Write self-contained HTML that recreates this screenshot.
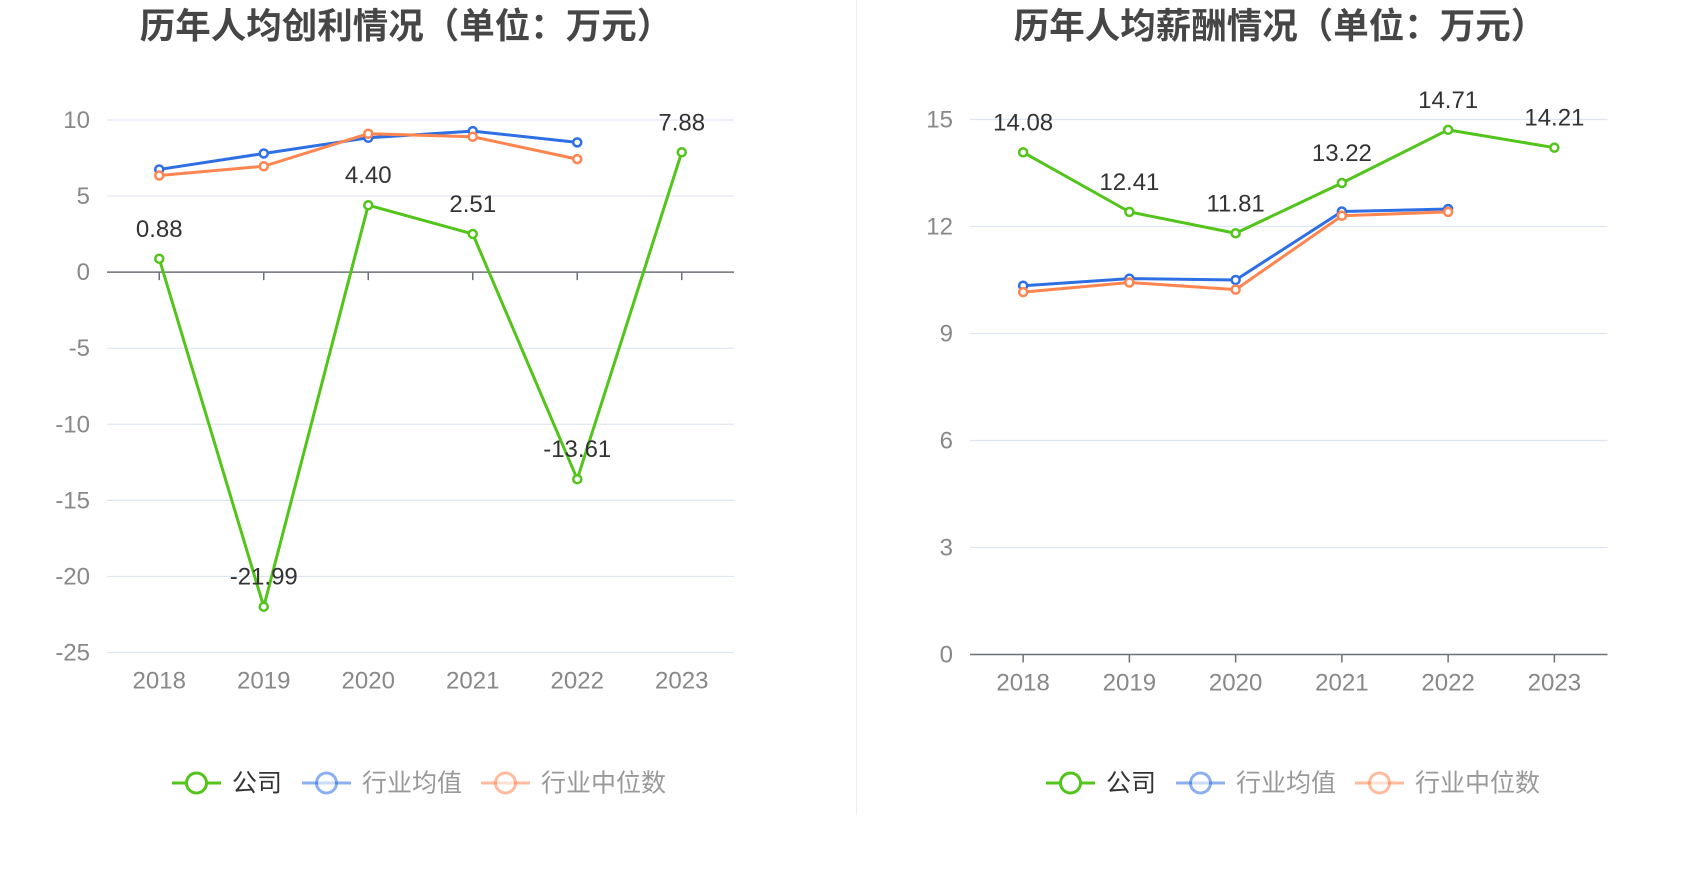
<!DOCTYPE html>
<html><head><meta charset="utf-8"><style>
body{margin:0;background:#fff;width:1700px;height:874px;overflow:hidden}
svg{display:block}
text{font-family:"Liberation Sans","Noto Sans CJK SC",sans-serif}
</style></head><body>
<svg id="c" width="1700" height="874">
<line x1="856.5" y1="0" x2="856.5" y2="815" stroke="#eeeeee" stroke-width="1"/>
</svg>
<script>
const years = ["2018","2019","2020","2021","2022","2023"];
const profitCompany = [0.88,-21.99,4.40,2.51,-13.61,7.88];
const profitAvg = [6.75,7.8,8.83,9.27,8.53];
const profitMedian = [6.35,6.96,9.1,8.9,7.43];
const profitTicks = [10,5,0,-5,-10,-15,-20,-25];
const salaryCompany = [14.08,12.41,11.81,13.22,14.71,14.21];
const salaryAvg = [10.34,10.54,10.5,12.42,12.49];
const salaryMedian = [10.16,10.43,10.23,12.3,12.41];
const salaryTicks = [15,12,9,6,3,0];

const NS="http://www.w3.org/2000/svg";
const svg=document.getElementById('c');
function mk(tag,attrs,parent){const e=document.createElementNS(NS,tag);for(const k in attrs)e.setAttribute(k,attrs[k]);(parent||svg).appendChild(e);return e;}
const GREEN="#52c41a",BLUE="#2f6fe4",ORANGE="#ff8550";

function chart(o){
  const g=mk('g',{});
  
  
  const yMin=Math.min(...o.ticks),yMax=Math.max(...o.ticks);
  const Y=v=>o.top+(yMax-v)/(yMax-yMin)*(o.bottom-o.top);
  const band=(o.right-o.left)/years.length;
  const X=i=>o.left+band*(i+0.5);
  const t=mk('text',{x:o.titleX,y:38,'text-anchor':'middle','font-size':35.5,'font-weight':'bold',fill:'#464646'},g);
  t.textContent=o.title;
  
  
  o.ticks.forEach(v=>{
    const y=Y(v);
    if(v!==0){const l=mk('line',{x1:o.left,x2:o.right,y1:y,y2:y,stroke:'#e0e6f1','stroke-width':1.2},g);
      
      }
    const tx=mk('text',{x:o.labelX,y:y+8,'text-anchor':'end','font-size':24,fill:'#888'},g);
    tx.textContent=v;
    
    
  });
  const y0=Y(0);
  const ax=mk('line',{x1:o.left,x2:o.right,y1:y0,y2:y0,stroke:'#6e7079','stroke-width':1.5},g);
  
  
  years.forEach((yr,i)=>{
    const tk=mk('line',{x1:X(i),x2:X(i),y1:y0,y2:y0+8,stroke:'#6e7079','stroke-width':1.5},g);
    
    
    const tx=mk('text',{x:X(i),y:o.bottom+36,'text-anchor':'middle','font-size':24,fill:'#888'},g);
    tx.textContent=yr;
    
    
  });
  function series(vals,color,name,labels){
    const p=mk('polyline',{points:vals.map((v,i)=>X(i)+','+Y(v)).join(' '),fill:'none',stroke:color,'stroke-width':3,'stroke-linejoin':'round'},g);
    
    
    vals.forEach((v,i)=>{
      const c=mk('circle',{cx:X(i),cy:Y(v),r:4,fill:'#fff',stroke:color,'stroke-width':2.5},g);
      
      
      if(labels){const tx=mk('text',{x:X(i),y:Y(v)-22,'text-anchor':'middle','font-size':24,fill:'#333'},g);
        tx.textContent=v.toFixed(2);
        
        }
    });
  }
  series(o.avg,BLUE,'industry-average',false);
  series(o.median,ORANGE,'industry-median',false);
  series(o.company,GREEN,'company',true);
  const ly=783;
  const items=[["公司",GREEN,'#333',1,o.lx[0]],["行业均值",BLUE,'#999',0.55,o.lx[1]],["行业中位数",ORANGE,'#999',0.55,o.lx[2]]];
  items.forEach(([label,color,tc,op,x])=>{
    const lg=mk('g',{opacity:1},g);
    
    
    mk('line',{x1:x,x2:x+49,y1:ly,y2:ly,stroke:color,'stroke-width':3,opacity:op},lg);
    mk('circle',{cx:x+24.5,cy:ly,r:10,fill:'#fff',stroke:color,'stroke-width':3,opacity:op},lg);
    const tx=mk('text',{x:x+60,y:ly+8.5,'font-size':25,fill:tc},lg);
    tx.textContent=label;
  });
}
chart({name:'profit-chart',title:'历年人均创利情况（单位：万元）',titleX:406,left:107,right:734,top:120,bottom:652.5,labelX:90,
  ticks:profitTicks,company:profitCompany,avg:profitAvg,median:profitMedian,lx:[172,302,481]});
chart({name:'salary-chart',title:'历年人均薪酬情况（单位：万元）',titleX:1280,left:970,right:1607.5,top:119.5,bottom:654.5,labelX:953,
  ticks:salaryTicks,company:salaryCompany,avg:salaryAvg,median:salaryMedian,lx:[1046,1176,1355]});
</script>
</body></html>
